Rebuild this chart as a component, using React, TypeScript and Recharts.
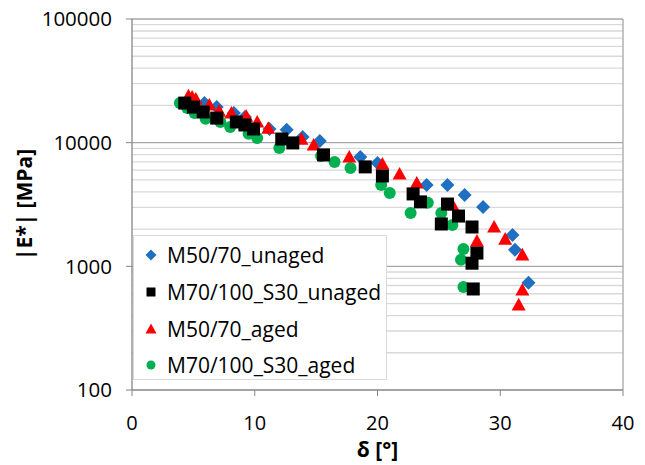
import React from 'react'
import {
  ScatterChart, Scatter, XAxis, YAxis, ReferenceLine, Legend,
} from 'recharts'

// phase angle δ [°] and |E*| [MPa]
const deltaM5070Unaged = [5.9, 6.9, 8.3, 9.2, 11.2, 12.6, 13.9, 15.3, 18.6, 20.0, 24.0, 25.7, 27.1, 28.6, 31.0, 31.2, 32.3]
const modM5070Unaged = [20900, 19400, 17400, 16100, 12900, 12700, 11100, 10300, 7660, 6850, 4550, 4550, 3780, 3020, 1790, 1360, 735]

const deltaM70100Unaged = [4.3, 5.0, 5.8, 6.9, 8.5, 9.2, 9.9, 12.2, 13.1, 15.6, 19.0, 20.4, 22.9, 23.5, 25.2, 25.7, 26.6, 27.7, 28.1, 27.7, 27.8]
const modM70100Unaged = [20900, 19400, 17700, 15800, 14700, 13900, 12900, 10700, 9950, 7960, 6370, 5380, 3850, 3320, 2200, 3190, 2550, 2080, 1280, 1060, 656]

const deltaM5070Aged = [4.6, 4.9, 5.2, 6.3, 7.1, 8.1, 9.3, 10.2, 11.1, 13.8, 14.8, 17.7, 20.4, 21.8, 23.2, 26.1, 28.1, 29.5, 30.4, 31.8, 31.8, 31.5]
const modM5070Aged = [23900, 23400, 22500, 20200, 18000, 17400, 16400, 14700, 13100, 10700, 9580, 7660, 6730, 5580, 4720, 3140, 1600, 2080, 1660, 1240, 644, 488]

const deltaM70100Aged = [3.9, 4.5, 5.1, 6.0, 7.2, 8.0, 9.5, 10.2, 12.0, 15.4, 16.5, 17.8, 20.3, 21.0, 22.7, 24.1, 25.2, 26.1, 27.0, 26.8, 27.0]
const modM70100Aged = [20900, 19100, 17400, 15600, 14700, 13400, 11800, 10900, 9060, 7800, 6980, 6240, 4550, 3920, 2700, 3260, 2700, 2160, 1380, 1130, 681]

const xTicks = [0, 10, 20, 30, 40]
const yTicks = [100, 1000, 10000, 100000]
const yMinor = [2, 3, 4, 5, 6, 7, 8, 9].flatMap((m) => [100, 1000, 10000].map((d) => m * d))

const FONT = "'Open Sans', sans-serif"

const zip = (xs: number[], ys: number[]) => xs.map((d, i) => ({ delta: d, e: ys[i] }))

const Diamond = ({ cx, cy, r = 7, fill }: any) => (
  <polygon points={`${cx},${cy - r} ${cx + r},${cy} ${cx},${cy + r} ${cx - r},${cy}`} fill={fill} />
)
const Square = ({ cx, cy, r = 6.5, fill }: any) => <rect x={cx - r} y={cy - r} width={2 * r} height={2 * r} fill={fill} />
const Triangle = ({ cx, cy, r = 7, fill }: any) => (
  <polygon points={`${cx},${cy - r} ${cx + r},${cy + r * 0.8} ${cx - r},${cy + r * 0.8}`} fill={fill} />
)
const Circle = ({ cx, cy, r = 6, fill }: any) => <circle cx={cx} cy={cy} r={r} fill={fill} />

const series = [
  { name: 'M50/70_unaged', color: '#1f70c1', Shape: Diamond, data: zip(deltaM5070Unaged, modM5070Unaged) },
  { name: 'M70/100_S30_unaged', color: '#000000', Shape: Square, data: zip(deltaM70100Unaged, modM70100Unaged) },
  { name: 'M50/70_aged', color: '#ff0000', Shape: Triangle, data: zip(deltaM5070Aged, modM5070Aged) },
  { name: 'M70/100_S30_aged', color: '#00b050', Shape: Circle, data: zip(deltaM70100Aged, modM70100Aged) },
]
// drawing order (black squares end up on top)
const drawOrder = [3, 0, 2, 1]

const LegendBox = () => (
  <div style={{ background: '#fff', border: '1px solid #d9d9d9', width: 254, height: 145, boxSizing: 'border-box', paddingTop: 1 }}>
    {series.map((s) => (
      <div key={s.name} style={{ display: 'flex', alignItems: 'center', height: 36.7, fontFamily: FONT, fontSize: 21, color: '#000' }}>
        <svg width={30} height={20} style={{ marginLeft: 2 }}>
          <s.Shape cx={15} cy={10} r={s.Shape === Circle ? 4.5 : s.Shape === Square ? 4.5 : 5.5} fill={s.color} />
        </svg>
        <span style={{ marginLeft: 1 }}>{s.name}</span>
      </div>
    ))}
  </div>
)

const YTitle = ({ viewBox }: any) => {
  const cy = viewBox.y + viewBox.height / 2
  return (
    <text x={24} y={cy} transform={`rotate(-90, 24, ${cy})`} textAnchor="middle" dominantBaseline="central"
      fontFamily={FONT} fontWeight="bold" fontSize={21} fill="#000">|E*| [MPa]</text>
  )
}

const XTitle = ({ viewBox }: any) => (
  <text x={viewBox.x + viewBox.width / 2} y={457} textAnchor="middle"
    fontFamily={FONT} fontWeight="bold" fontSize={21} fill="#000">δ [°]</text>
)

export default function App() {
  return (
    <div style={{ position: 'absolute', left: 0, top: 0, width: 645, height: 465, background: '#fff' }}>
      <ScatterChart width={645} height={465} margin={{ top: 19, right: 22, left: 0, bottom: 0 }}>
        {yMinor.map((v) => (
          <ReferenceLine key={v} y={v} stroke="#d9d9d9" strokeWidth={1.3} />
        ))}
        {yTicks.slice(1).map((v) => (
          <ReferenceLine key={v} y={v} stroke="#a6a6a6" strokeWidth={1.3} />
        ))}
        <ReferenceLine x={40} stroke="#a6a6a6" strokeWidth={1.3} />
        <XAxis type="number" dataKey="delta" domain={[0, 40]} ticks={xTicks} height={75}
          axisLine={{ stroke: '#868686', strokeWidth: 1.3 }} tickLine={{ stroke: '#868686' }} tickSize={6} tickMargin={20}
          tick={{ fill: '#000', fontSize: 20, fontFamily: FONT }} label={<XTitle />} />
        <YAxis type="number" dataKey="e" scale="log" domain={[100, 100000]} ticks={yTicks} allowDataOverflow width={132}
          axisLine={{ stroke: '#868686', strokeWidth: 1.3 }} tickLine={{ stroke: '#868686' }} tickSize={6} tickMargin={14}
          tick={{ fill: '#000', fontSize: 20.5, fontFamily: FONT }} label={<YTitle />} />
        {drawOrder.map((i) => {
          const s = series[i]
          return (
            <Scatter key={s.name} name={s.name} data={s.data} fill={s.color} isAnimationActive={false}
              shape={(p: any) => <s.Shape cx={p.cx} cy={p.cy} fill={s.color} />} />
          )
        })}
        <Legend layout="vertical" align="center" verticalAlign="middle" content={<LegendBox />}
          wrapperStyle={{ left: 133, top: 235, width: 254, height: 145 }} />
      </ScatterChart>
    </div>
  )
}
